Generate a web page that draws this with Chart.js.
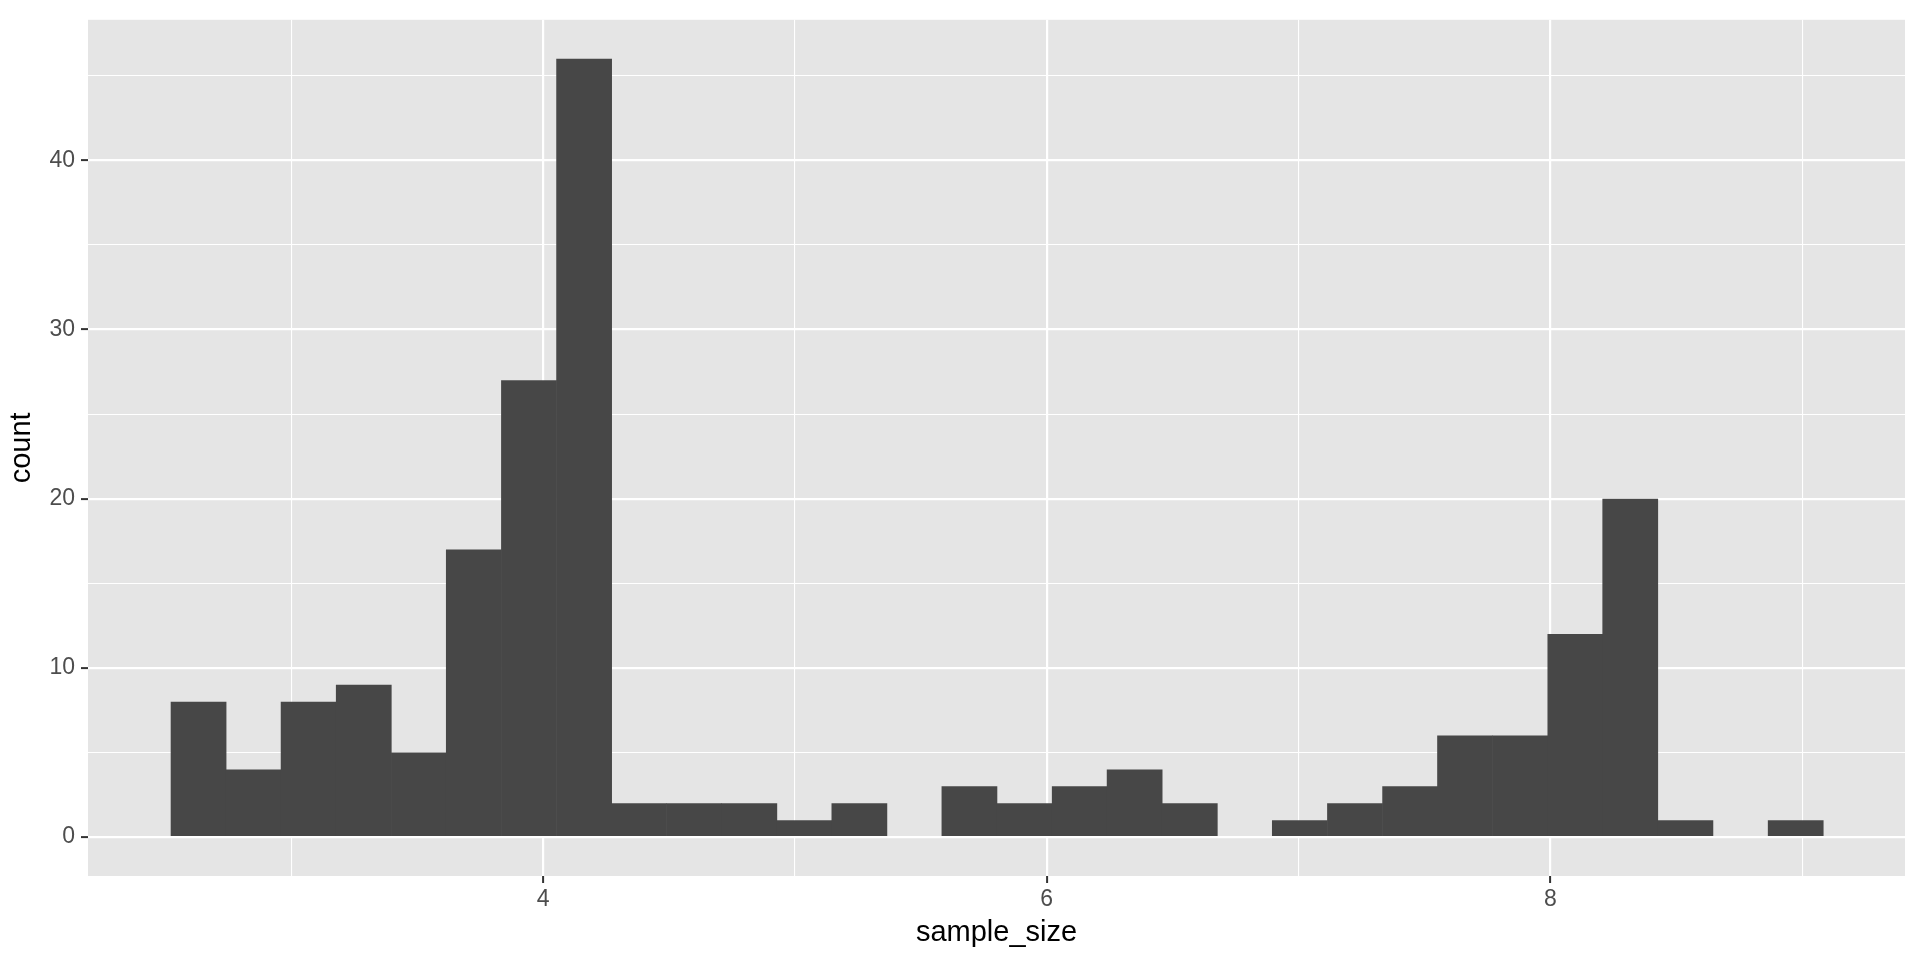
<!DOCTYPE html>
<html>
<head>
<meta charset="utf-8">
<script src="https://cdn.jsdelivr.net/npm/chart.js@4.4.1/dist/chart.umd.min.js"></script>
<style>
  html, body { margin: 0; padding: 0; background: #fff; }
  #wrap { width: 1920px; height: 960px; }
</style>
</head>
<body>
<div id="wrap"><canvas id="myChart"></canvas></div>
<script>
// histogram bins (30 bins, ggplot default)
const binCenters = [2.632, 2.851, 3.069, 3.288, 3.507, 3.725, 3.944, 4.163, 4.381, 4.600,
                    4.819, 5.037, 5.256, 5.475, 5.693, 5.912, 6.131, 6.349, 6.568, 6.787,
                    7.005, 7.224, 7.443, 7.661, 7.880, 8.099, 8.317, 8.536, 8.755, 8.974];
const counts = [8, 4, 8, 9, 5, 17, 27, 46, 2, 2,
                2, 1, 2, 0, 3, 2, 3, 4, 2, 0,
                1, 2, 3, 6, 6, 12, 20, 1, 0, 1];
const xMajor = [4, 6, 8];
const xMinor = [3, 5, 7, 9];
const yMajor = [0, 10, 20, 30, 40];
const yMinor = [5, 15, 25, 35, 45];

const ctx = document.getElementById('myChart');

const panelBg = {
  id: 'panelBg',
  beforeDraw(chart) {
    const a = chart.chartArea;
    const c = chart.ctx;
    c.save();
    c.fillStyle = '#E5E5E5';
    c.fillRect(a.left, a.top, a.right - a.left, a.bottom - a.top);
    c.restore();
  }
};

const isMajor = (list, v) => list.some(m => Math.abs(m - v) < 1e-9);
const major = (list, c) => c.tick !== undefined && isMajor(list, c.tick.value);

new Chart(ctx, {
  type: 'bar',
  data: {
    datasets: [{
      label: 'count',
      data: binCenters.map((x, i) => ({ x: x, y: counts[i] })),
      backgroundColor: '#474747',
      borderWidth: 0,
      barPercentage: 1.015,
      categoryPercentage: 1,
      grouped: false
    }]
  },
  options: {
    responsive: true,
    maintainAspectRatio: false,
    animation: false,
    layout: { padding: { top: 15, right: 15, left: 0, bottom: 0 } },
    plugins: { legend: { display: false }, tooltip: { enabled: false } },
    scales: {
      x: {
        type: 'linear',
        offset: false,
        min: 2.193,
        max: 9.408,
        afterBuildTicks: s => { s.ticks = xMinor.concat(xMajor).sort((a, b) => a - b).map(v => ({ value: v })); },
        afterFit: s => { s.height = 84; },
        border: { display: false },
        grid: {
          offset: false,
          color: '#FFFFFF',
          lineWidth: c => major(xMajor, c) ? 2.2 : 1.1,
          tickColor: c => major(xMajor, c) ? '#333333' : 'rgba(0,0,0,0)',
          tickLength: 7,
          tickWidth: 2
        },
        ticks: {
          autoSkip: false,
          maxRotation: 0,
          padding: 3,
          color: '#4D4D4D',
          font: { family: 'Liberation Sans', size: 23 },
          callback: v => isMajor(xMajor, v) ? String(v) : ''
        },
        title: {
          display: true,
          text: 'sample_size',
          color: '#000000',
          font: { family: 'Liberation Sans', size: 29 },
          padding: { top: 0, bottom: 10 }
        }
      },
      y: {
        min: -2.3,
        max: 48.3,
        afterBuildTicks: s => { s.ticks = yMinor.concat(yMajor).sort((a, b) => a - b).map(v => ({ value: v })); },
        afterFit: s => { s.width = 88; },
        border: { display: false },
        grid: {
          color: '#FFFFFF',
          lineWidth: c => major(yMajor, c) ? 2.2 : 1.1,
          tickColor: c => major(yMajor, c) ? '#333333' : 'rgba(0,0,0,0)',
          tickLength: 7,
          tickWidth: 2
        },
        ticks: {
          autoSkip: false,
          padding: 6,
          color: '#4D4D4D',
          font: { family: 'Liberation Sans', size: 23 },
          callback: v => isMajor(yMajor, v) ? String(v) : ''
        },
        title: {
          display: true,
          text: 'count',
          color: '#000000',
          font: { family: 'Liberation Sans', size: 29 },
          padding: { top: 5, bottom: 0 }
        }
      }
    }
  },
  plugins: [panelBg]
});
</script>
</body>
</html>
